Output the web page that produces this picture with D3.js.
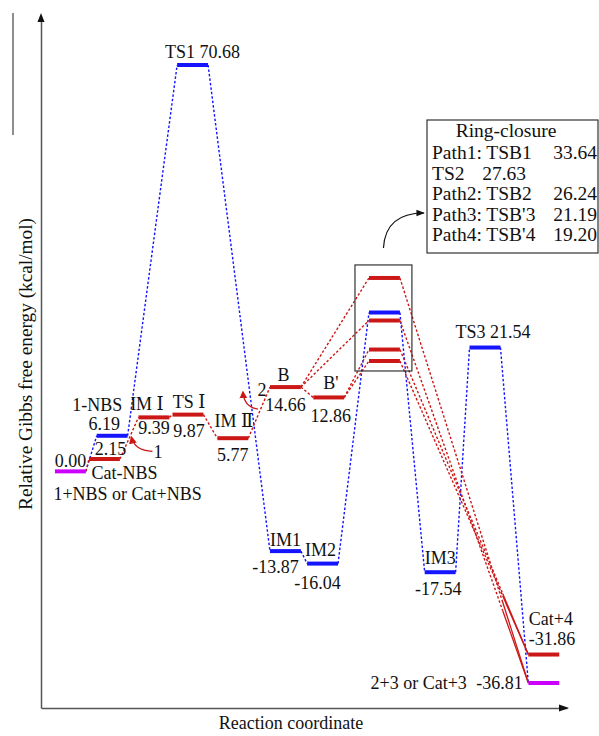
<!DOCTYPE html>
<html><head><meta charset="utf-8">
<script src="https://cdn.jsdelivr.net/npm/d3@7"></script>
<style>
html,body{margin:0;padding:0;background:#fff;}
svg{display:block;}
text{font-family:"Liberation Serif","DejaVu Serif","Times New Roman",serif;font-size:18px;fill:#111;}
text.lg{font-size:19.5px;}
</style></head>
<body>
<svg id="chart" width="599" height="736" font-family="Liberation Serif, DejaVu Serif, serif"></svg>
<script>
// ---------------- data ----------------
const ids      = ["start","1-NBS","Cat-NBS","IMI","TSI","TS1","IMII","B","Bp","IM1","IM2","TSB1","TS2","TSB2","TSBp3","TSBp4","IM3","TS3","Cat+4","end"];
const names    = ["1+NBS or Cat+NBS","1-NBS","Cat-NBS","IM \u2160","TS \u2160","TS1","IM \u2161","B","B'","IM1","IM2","TSB1","TS2","TSB2","TSB'3","TSB'4","IM3","TS3","Cat+4","2+3 or Cat+3"];
const energies = [0.00, 6.19, 2.15, 9.39, 9.87, 70.68, 5.77, 14.66, 12.86, -13.87, -16.04, 33.64, 27.63, 26.24, 21.19, 19.20, -17.54, 21.54, -31.86, -36.81];
const coords   = [0.95, 2.3, 2.05, 3.65, 4.75, 4.9, 6.2, 7.9, 9.3, 7.9, 9.1, 11.1, 11.1, 11.1, 11.1, 11.1, 12.9, 14.35, 16.25, 16.25];
const routes   = ["common","uncat","cat","cat","cat","uncat","cat","cat","cat","uncat","uncat","cat","uncat","cat","cat","cat","uncat","uncat","cat","common"];

const uncatLinks = [["start","1-NBS"],["1-NBS","TS1"],["TS1","IM1"],["IM1","IM2"],["IM2","TS2"],["TS2","IM3"],["IM3","TS3"],["TS3","end"]];
const catLinks   = [["start","Cat-NBS"],["Cat-NBS","IMI"],["IMI","TSI"],["TSI","IMII"],["IMII","B"],["B","Bp"],["B","TSB1"],["B","TSB2"],["Bp","TSBp3"],["Bp","TSBp4"]];
const productLinks = [["TSB1","end"],["TSB2","end"],["TSBp3","Cat+4"],["TSBp4","Cat+4"]];

const legendTitle = "Ring-closure";
const legendRows  = [["Path1: ","TSB1"],["","TS2"],["Path2: ","TSB2"],["Path3: ","TSB'3"],["Path4: ","TSB'4"]];
const xTitle = "Reaction coordinate";
const yTitle = "Relative Gibbs free energy (kcal/mol)";

// ---------------- layout / style ----------------
const colors = {common:"#cc00ff", uncat:"#1414ff", cat:"#cc1717"};
const halfW = 0.5;
// label layout: [id, kind, dx, dy, anchor]
const labelLayout = [
  ["TS1","both",10,-7,"middle"],
  ["start","value",0,-4,"middle"],
  ["start","name",-17,29,"start"],
  ["Cat-NBS","name",-13,20,"start"],
  ["Cat-NBS","value",6,-4,"middle"],
  ["1-NBS","name",-15,-25,"middle"],
  ["1-NBS","value",-8,-6,"middle"],
  ["IMI","name",-7,-7,"middle"],
  ["IMI","value",0,17,"middle"],
  ["TSI","name",1,-7,"middle"],
  ["TSI","value",1,22,"middle"],
  ["IMII","name",1,-11,"middle"],
  ["IMII","value",0,23,"middle"],
  ["B","name",-2,-6,"middle"],
  ["B","value",0,24,"middle"],
  ["Bp","name",2,-8,"middle"],
  ["Bp","value",2,25,"middle"],
  ["IM1","name",0,-5,"middle"],
  ["IM1","value",-10,22,"middle"],
  ["IM2","name",-2,-8,"middle"],
  ["IM2","value",-5,25,"middle"],
  ["IM3","name",0,-8,"middle"],
  ["IM3","value",-2,23,"middle"],
  ["TS3","both",8,-10,"middle"],
  ["Cat+4","name",-15,-30,"start"],
  ["Cat+4","value",-15,-10,"start"],
  ["end","name",-77,6,"end"],
  ["end","value",-21,6,"end"]
];

const svg = d3.select("#chart");
const x = d3.scaleLinear().domain([0,17]).range([41,567]);
const y = d3.scaleLinear().domain([-36.81,70.68]).range([683,65]);

const lv = {};
ids.forEach((id,i)=>{ lv[id] = {id, name:names[i], e:energies[i], c:coords[i], route:routes[i]}; });
const L = d => x(d.c - halfW), R = d => x(d.c + halfW);

// stray frame line top-left
svg.append("line").attr("x1",13).attr("x2",13).attr("y1",13).attr("y2",135).attr("stroke","#444").attr("stroke-width",1.2);

// axes
const yAxisScale = d3.scaleLinear().domain([y.invert(708), y.invert(20)]).range([708,20]);
svg.append("g").attr("transform","translate(41,0)")
  .call(d3.axisLeft(yAxisScale).tickValues([]).tickSizeOuter(0))
  .select(".domain").attr("stroke","#555").attr("stroke-width",1.5);
svg.append("g").attr("transform","translate(0,708)")
  .call(d3.axisBottom(x).tickValues([]).tickSizeOuter(0))
  .select(".domain").attr("stroke","#555").attr("stroke-width",1.5);
svg.append("path").attr("d","M41,13 L37.5,22 L44.5,22 Z").attr("fill","#111");
svg.append("path").attr("d","M569,708 L559,704.5 L559,711.5 Z").attr("fill","#111");

svg.append("text").attr("x",291).attr("y",729).attr("text-anchor","middle").text(xTitle);
svg.append("text").attr("transform","translate(32,364) rotate(-90)").attr("text-anchor","middle")
  .style("font-size","19.3px").text(yTitle);

// connectors
function link(a,b,color){
  svg.append("line").attr("x1",R(lv[a])).attr("y1",y(lv[a].e)).attr("x2",L(lv[b])).attr("y2",y(lv[b].e))
    .attr("stroke",color).attr("stroke-width",1.4).attr("stroke-dasharray","2.5,2");
}
uncatLinks.forEach(([a,b])=>link(a,b,colors.uncat));
catLinks.forEach(([a,b])=>link(a,b,colors.cat));
productLinks.forEach(([a,b])=>{
  const x1=R(lv[a]), y1=y(lv[a].e), x2=L(lv[b]), y2=y(lv[b].e), t=0.8;
  const xm=x1+(x2-x1)*t, ym=y1+(y2-y1)*t;
  svg.append("line").attr("x1",x1).attr("y1",y1).attr("x2",xm).attr("y2",ym)
    .attr("stroke",colors.cat).attr("stroke-width",1.4).attr("stroke-dasharray","2.5,2");
  svg.append("line").attr("x1",xm).attr("y1",ym).attr("x2",x2).attr("y2",y2)
    .attr("stroke",colors.cat).attr("stroke-width",1.3);
});

// bars
svg.selectAll("line.bar").data(Object.values(lv)).join("line").attr("class","bar")
  .attr("x1",L).attr("x2",R).attr("y1",d=>y(d.e)).attr("y2",d=>y(d.e))
  .attr("stroke",d=>colors[d.route]).attr("stroke-width",4);

// labels
labelLayout.forEach(([id,kind,dx,dy,anchor])=>{
  const d=lv[id];
  const t = kind==="name"?d.name : kind==="value"?d.e.toFixed(2) : d.name+" "+d.e.toFixed(2);
  svg.append("text").attr("x",x(d.c)+dx).attr("y",y(d.e)+dy).attr("text-anchor",anchor).text(t);
});

// small curved arrows "1" and "2"
svg.append("defs").append("marker").attr("id","ah").attr("viewBox","0 0 10 10").attr("refX",8).attr("refY",5)
  .attr("markerWidth",6).attr("markerHeight",6).attr("orient","auto-start-reverse")
  .append("path").attr("d","M0,0 L10,5 L0,10 Z").attr("fill",colors.cat);
{
  const d=lv["IMI"], x0=L(d), y0=y(d.e);
  svg.append("path").attr("d",`M${x0+14},${y0+34} Q${x0-4},${y0+33} ${x0-7},${y0+20}`)
    .attr("fill","none").attr("stroke",colors.cat).attr("stroke-width",1.3).attr("marker-end","url(#ah)");
  svg.append("text").attr("x",x0+15).attr("y",y0+41).attr("text-anchor","start").text("1");
}
{
  const d=lv["B"], x0=L(d), y0=y(d.e);
  svg.append("path").attr("d",`M${x0-12},${y0+22} Q${x0-26},${y0+20} ${x0-27},${y0+5}`)
    .attr("fill","none").attr("stroke",colors.cat).attr("stroke-width",1.3).attr("marker-end","url(#ah)");
  svg.append("text").attr("x",x0-8).attr("y",y0+9).attr("text-anchor","middle").text("2");
}

// highlight box around ring-closure TSs
const cl = ["TSB1","TS2","TSB2","TSBp3","TSBp4"].map(k=>lv[k]);
const bx0 = d3.min(cl,L)-14, bx1 = d3.max(cl,R)+12;
const by0 = y(d3.max(cl,d=>d.e))-13, by1 = y(d3.min(cl,d=>d.e))+10;
svg.append("rect").attr("x",bx0).attr("y",by0).attr("width",bx1-bx0).attr("height",by1-by0)
  .attr("fill","none").attr("stroke","#333").attr("stroke-width",1.2);

// legend
const lgX=427, lgY=120, lgW=171, lgH=133;
svg.append("rect").attr("x",lgX).attr("y",lgY).attr("width",lgW).attr("height",lgH)
  .attr("fill","none").attr("stroke","#333").attr("stroke-width",1.2);
svg.append("defs").append("marker").attr("id","ahk").attr("viewBox","0 0 10 10").attr("refX",9).attr("refY",5)
  .attr("markerWidth",7).attr("markerHeight",7).attr("orient","auto")
  .append("path").attr("d","M0,1 L10,5 L0,9 Z").attr("fill","#111");
const ax0=(bx0+bx1)/2, ay0=by0-17;
svg.append("path").attr("d",`M${ax0},${ay0} Q${ax0+2},${lgY+93} ${lgX-3},${lgY+93}`)
  .attr("fill","none").attr("stroke","#111").attr("stroke-width",1.2).attr("marker-end","url(#ahk)");
svg.append("text").attr("class","lg").attr("x",506).attr("y",137).attr("text-anchor","middle").text(legendTitle);
const rowY=[159,180,200,221,241];
legendRows.forEach(([p,n],i)=>{
  const d = Object.values(lv).find(v=>v.name===n);
  svg.append("text").attr("class","lg").attr("x",432).attr("y",rowY[i]).text(p+n);
  svg.append("text").attr("class","lg").attr("x",p?597:526).attr("y",rowY[i]).attr("text-anchor","end").text(d.e.toFixed(2));
});
</script>
</body></html>
